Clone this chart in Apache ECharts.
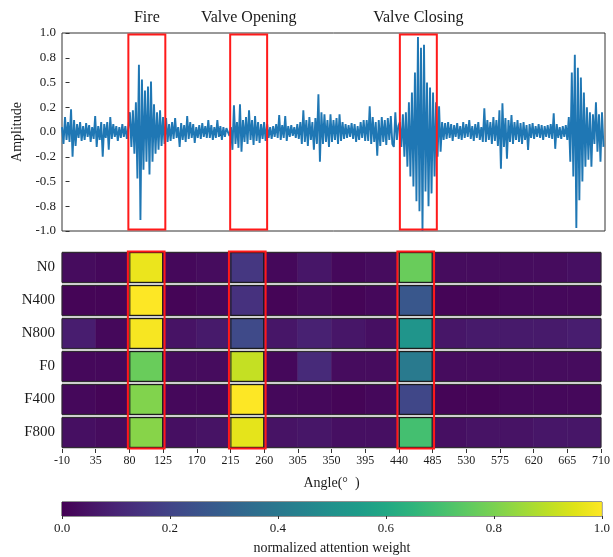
<!DOCTYPE html>
<html>
<head>
<meta charset="utf-8">
<script src="https://cdn.jsdelivr.net/npm/echarts@6/dist/echarts.min.js"></script>
<style>
  html, body { margin: 0; padding: 0; background: #fff; }
  #chart { width: 613px; height: 557px; }
</style>
</head>
<body>
<div id="chart"></div>
<script>
// ---- signal (amplitude sampled every 2 degrees, starting at -10) ----
const SIGNAL_START = -10;
const SIGNAL_STEP = 2;
const amplitude = [
  0.05, -0.12, 0.15, -0.08, 0.10, -0.10, 0.23, -0.25, 0.12, -0.14,   // -10
  0.08, -0.06, 0.10, -0.09, 0.06, -0.08, 0.09, -0.05, 0.07, -0.10,   // 10
  0.05, -0.07, 0.16, -0.15, 0.06, -0.08, 0.10, -0.25, 0.08, -0.06,   // 30
  0.10, -0.18, 0.15, -0.07, 0.08, -0.05, 0.06, -0.09, 0.05, -0.06,   // 50
  0.08, -0.05, 0.06, -0.07, 0.05, 0.20, -0.15, 0.22, -0.22, 0.30,    // 70
  -0.47, 0.68, -0.89, 0.53, -0.38, 0.42, -0.30, 0.46, -0.43, 0.51,   // 90
  -0.30, 0.28, -0.22, 0.20, -0.18, 0.22, -0.14, 0.15, -0.12, 0.14,   // 110
  -0.10, 0.08, -0.09, 0.10, -0.07, 0.14, -0.06, 0.05, -0.15, 0.09,   // 130
  -0.08, 0.07, -0.10, 0.16, -0.07, 0.10, -0.06, 0.08, -0.11, 0.05,   // 150
  -0.06, 0.07, -0.07, 0.09, -0.05, 0.06, -0.06, 0.12, -0.06, 0.07,   // 170
  -0.08, 0.05, -0.06, 0.12, -0.05, 0.06, -0.08, 0.05, -0.05, 0.04,   // 190
  0.04, -0.04, 0.05, -0.18, 0.27, -0.12, 0.10, -0.16, 0.28, -0.20,   // 210
  0.12, -0.10, 0.15, -0.12, 0.22, -0.08, 0.12, -0.13, 0.16, -0.09,   // 230
  0.10, -0.11, 0.08, -0.07, 0.10, -0.09, 0.08, -0.06, 0.05, -0.07,   // 250
  0.06, -0.05, 0.08, -0.06, 0.17, -0.08, 0.07, -0.06, 0.16, -0.09,   // 270
  0.06, -0.05, 0.07, -0.04, 0.05, -0.06, 0.08, -0.07, 0.10, -0.12,   // 290
  0.22, -0.10, 0.12, -0.14, 0.15, -0.08, 0.10, -0.18, 0.14, -0.12,   // 310
  0.38, -0.30, 0.20, -0.12, 0.18, -0.10, 0.12, -0.15, 0.18, -0.10,   // 330
  0.12, -0.08, 0.14, -0.12, 0.18, -0.09, 0.10, -0.07, 0.08, -0.06,   // 350
  0.07, -0.05, 0.09, -0.07, 0.08, -0.10, 0.06, -0.08, 0.10, -0.06,   // 370
  0.12, -0.09, 0.12, -0.09, 0.26, -0.12, 0.15, -0.10, 0.10, -0.24,   // 390
  0.12, -0.14, 0.15, -0.10, 0.12, -0.13, 0.14, -0.08, 0.16, -0.12,   // 410
  -0.15, 0.20, -0.08, 0.06, 0.10, -0.15, 0.18, -0.25, 0.20, -0.35,   // 430
  0.30, -0.45, 0.40, -0.55, 0.60, -0.70, 0.96, -0.80, 0.85, -1.00,   // 450
  0.88, -0.60, 0.50, -0.75, 0.45, -0.62, 0.40, -0.45, 0.30, -0.25,   // 470
  0.26, -0.20, 0.10, -0.08, 0.09, -0.07, 0.10, -0.06, 0.08, -0.09,   // 490
  0.07, -0.05, 0.09, -0.07, 0.06, -0.08, 0.10, -0.06, 0.08, -0.05,   // 510
  0.12, -0.07, 0.06, -0.09, 0.08, -0.06, 0.10, -0.08, 0.05, -0.10,   // 530
  0.24, -0.10, 0.12, -0.08, 0.10, -0.12, 0.15, -0.09, 0.12, -0.14,   // 550
  0.22, -0.37, 0.29, -0.15, 0.14, -0.27, 0.12, -0.10, 0.17, -0.12,   // 570
  0.10, -0.08, 0.12, -0.10, 0.09, -0.12, 0.10, -0.08, 0.07, -0.18,   // 590
  0.08, -0.06, 0.09, -0.07, 0.06, -0.05, 0.08, -0.06, 0.07, -0.08,   // 610
  0.06, -0.05, 0.07, -0.06, 0.08, -0.07, 0.19, -0.17, 0.08, -0.06,   // 630
  0.05, -0.07, 0.06, -0.05, 0.07, -0.08, 0.15, -0.30, 0.60, -0.45,   // 650
  0.78, -0.97, 0.65, -0.69, 0.55, -0.50, 0.40, -0.35, 0.25, -0.28,   // 670
  0.20, -0.35, 0.18, -0.12, 0.30, -0.20, 0.18, -0.30, 0.20, -0.15    // 690
];
const AMP_TICK_LABELS = ['-1.0', '-0.8', '-0.5', '-0.2', '0.0', '0.2', '0.5', '0.8', '1.0'];
const SIGNAL_TICKS = [0, 100, 200, 300, 400, 500, 600, 700];

// ---- event windows ----
const EVENT_TITLES = ['Fire', 'Valve Opening', 'Valve Closing'];
const EVENT_SPANS = [[78, 127], [213, 262], [438, 487]];

// ---- attention heatmap ----
const ANGLE_TICKS = [-10, 35, 80, 125, 170, 215, 260, 305, 350, 395, 440, 485, 530, 575, 620, 665, 710];
const ROW_LABELS = ['N0', 'N400', 'N800', 'F0', 'F400', 'F800'];
const attN0   = [0.03, 0.02, 0.97, 0.02, 0.03, 0.16, 0.02, 0.06, 0.02, 0.03, 0.77, 0.03, 0.03, 0.03, 0.03, 0.04];
const attN400 = [0.01, 0.01, 1.00, 0.01, 0.02, 0.14, 0.01, 0.03, 0.01, 0.02, 0.27, 0.01, 0.01, 0.02, 0.02, 0.02];
const attN800 = [0.08, 0.02, 0.99, 0.05, 0.07, 0.22, 0.06, 0.09, 0.06, 0.04, 0.52, 0.06, 0.07, 0.07, 0.07, 0.08];
const attF0   = [0.02, 0.02, 0.77, 0.03, 0.03, 0.91, 0.02, 0.12, 0.03, 0.03, 0.41, 0.03, 0.03, 0.03, 0.03, 0.03];
const attF400 = [0.02, 0.01, 0.81, 0.02, 0.02, 1.00, 0.02, 0.02, 0.01, 0.02, 0.21, 0.01, 0.01, 0.02, 0.02, 0.02];
const attF800 = [0.04, 0.03, 0.82, 0.04, 0.05, 0.96, 0.05, 0.06, 0.04, 0.04, 0.70, 0.04, 0.05, 0.05, 0.06, 0.06];
const ATTENTION_ROWS = [attN0, attN400, attN800, attF0, attF400, attF800];
const COLORBAR_TICKS = [0, 0.2, 0.4, 0.6, 0.8, 1.0];

// viridis palette
const VIRIDIS = ['#440154', '#471365', '#482475', '#463480', '#414487', '#3b528b', '#355f8d',
  '#2f6c8e', '#2a788e', '#25848e', '#21918c', '#1e9c89', '#22a884', '#2fb47c', '#44bf70',
  '#5ec962', '#7ad151', '#9bd93c', '#bddf26', '#dfe318', '#fde725'];

const FONT = '"Liberation Serif", "Times New Roman", serif';
const TEXT = '#1a1a1a';

const signalData = amplitude.map((v, i) => [SIGNAL_START + i * SIGNAL_STEP, v]);

const cellData = [];
ATTENTION_ROWS.forEach((row, r) => {
  row.forEach((v, c) => cellData.push([ANGLE_TICKS[c], ANGLE_TICKS[c + 1], r, v]));
});
const frameData = ROW_LABELS.map((_, r) => [ANGLE_TICKS[0], ANGLE_TICKS[ANGLE_TICKS.length - 1], r]);
const highlightedCells = [];
ATTENTION_ROWS.forEach((row, r) => {
  row.forEach((v, c) => {
    const a = ANGLE_TICKS[c], b = ANGLE_TICKS[c + 1];
    if (EVENT_SPANS.some(s => a >= s[0] && b <= s[1])) highlightedCells.push([a, b, r]);
  });
});

const chart = echarts.init(document.getElementById('chart'), null, { renderer: 'canvas' });

function bandBounds(api, row) {
  const c = api.coord([0, row]);
  const h = api.size([0, 1])[1];
  return [c[1] - h / 2, c[1] + h / 2];
}

chart.setOption({
  animation: false,
  backgroundColor: '#fff',
  textStyle: { fontFamily: FONT, color: TEXT },
  grid: [
    { left: 62, top: 33, width: 543, height: 198, show: true, borderColor: '#333', borderWidth: 1, backgroundColor: 'transparent' },
    { left: 62, top: 251, width: 543, height: 198, show: true, borderWidth: 0, backgroundColor: '#cfcfcf' },
    { left: 62, top: 502, width: 542, height: 14, show: true, borderColor: '#222', borderWidth: 1, backgroundColor: 'transparent' }
  ],
  xAxis: [
    {
      gridIndex: 0, type: 'value', min: -10, max: 710,
      splitLine: { show: false },
      axisLine: { show: false },
      axisTick: { show: true, length: 4, customValues: SIGNAL_TICKS, lineStyle: { color: '#333' } },
      axisLabel: { show: false }
    },
    {
      gridIndex: 1, type: 'value', min: -10, max: 710, interval: 45,
      splitLine: { show: false },
      axisLine: { show: false },
      axisTick: { show: true, length: 4, lineStyle: { color: '#333' } },
      axisLabel: { fontFamily: FONT, fontSize: 12, color: TEXT, margin: 6, showMinLabel: true, showMaxLabel: true, hideOverlap: false },
      name: 'Angle(°  )', nameLocation: 'middle', nameGap: 27,
      nameTextStyle: { fontFamily: FONT, fontSize: 14, color: TEXT }
    },
    {
      gridIndex: 2, type: 'value', min: 0, max: 1, interval: 0.2,
      splitLine: { show: false },
      axisLine: { show: false },
      axisTick: { show: true, length: 3, lineStyle: { color: '#333' } },
      axisLabel: { fontFamily: FONT, fontSize: 13, color: TEXT, margin: 6, formatter: v => v.toFixed(1) },
      name: 'normalized attention weight', nameLocation: 'middle', nameGap: 25,
      nameTextStyle: { fontFamily: FONT, fontSize: 14, color: TEXT }
    }
  ],
  yAxis: [
    {
      gridIndex: 0, type: 'value', min: -1, max: 1, interval: 0.25,
      splitLine: { show: false },
      axisLine: { show: false },
      axisTick: { show: true, length: 4, lineStyle: { color: '#333' } },
      axisLabel: {
        fontFamily: FONT, fontSize: 13, color: TEXT, margin: 6,
        formatter: v => AMP_TICK_LABELS[Math.round((v + 1) / 0.25)]
      },
      name: 'Amplitude', nameLocation: 'middle', nameGap: 38, nameRotate: 90,
      nameTextStyle: { fontFamily: FONT, fontSize: 14, color: TEXT }
    },
    {
      gridIndex: 1, type: 'category', data: ROW_LABELS, inverse: true,
      axisLine: { show: false },
      axisTick: { show: false },
      axisLabel: { fontFamily: FONT, fontSize: 15, color: TEXT, margin: 7 }
    },
    {
      gridIndex: 2, type: 'value', min: 0, max: 1, show: false
    }
  ],
  visualMap: {
    show: false, type: 'continuous', min: 0, max: 1, dimension: 3, seriesIndex: 2,
    inRange: { color: VIRIDIS }
  },
  series: [
    {
      type: 'line', xAxisIndex: 0, yAxisIndex: 0, data: signalData,
      showSymbol: false, symbol: 'none', sampling: null,
      lineStyle: { color: '#1f77b4', width: 1.9, join: 'miter', miterLimit: 2 }, z: 2
    },
    {
      // event windows with their titles on the signal panel
      type: 'custom', xAxisIndex: 0, yAxisIndex: 0,
      data: EVENT_SPANS.map(s => [s[0], s[1], -0.985, 0.985]),
      encode: { x: [0, 1], y: [2, 3] },
      z: 5, clip: false,
      renderItem: (params, api) => {
        const p0 = api.coord([api.value(0), api.value(3)]);
        const p1 = api.coord([api.value(1), api.value(2)]);
        return {
          type: 'group',
          children: [
            { type: 'rect', shape: { x: p0[0], y: p0[1], width: p1[0] - p0[0], height: p1[1] - p0[1] },
              style: { fill: 'none', stroke: '#ff1a1a', lineWidth: 2 } },
            { type: 'text', x: (p0[0] + p1[0]) / 2, y: p0[1] - 17,
              style: { text: EVENT_TITLES[params.dataIndex], fontFamily: FONT, fontSize: 16, fill: TEXT,
                       align: 'center', verticalAlign: 'middle' } }
          ]
        };
      }
    },
    {
      // attention cells
      type: 'custom', xAxisIndex: 1, yAxisIndex: 1,
      data: cellData,
      dimensions: ['from', 'to', 'row', 'weight'],
      encode: { x: [0, 1], y: 2 },
      z: 2,
      renderItem: (params, api) => {
        const a = api.coord([api.value(0), api.value(2)]);
        const b = api.coord([api.value(1), api.value(2)]);
        const [t, btm] = bandBounds(api, api.value(2));
        const col = api.visual('color');
        return { type: 'rect', shape: { x: a[0], y: t + 1.6, width: b[0] - a[0], height: btm - t - 3.2 },
                 style: { fill: col, stroke: col, lineWidth: 0.5 } };
      }
    },
    {
      // row frames
      type: 'custom', xAxisIndex: 1, yAxisIndex: 1,
      data: frameData,
      encode: { x: [0, 1], y: 2 },
      z: 3,
      renderItem: (params, api) => {
        const a = api.coord([api.value(0), api.value(2)]);
        const b = api.coord([api.value(1), api.value(2)]);
        const [t, btm] = bandBounds(api, api.value(2));
        return { type: 'rect', shape: { x: a[0], y: t + 1.6, width: b[0] - a[0], height: btm - t - 3.2 },
                 style: { fill: 'none', stroke: '#2b2b2b', lineWidth: 1 } };
      }
    },
    {
      // outlines of cells inside the event windows
      type: 'custom', xAxisIndex: 1, yAxisIndex: 1,
      data: highlightedCells,
      encode: { x: [0, 1], y: 2 },
      z: 4,
      renderItem: (params, api) => {
        const a = api.coord([api.value(0), api.value(2)]);
        const b = api.coord([api.value(1), api.value(2)]);
        const [t, btm] = bandBounds(api, api.value(2));
        return { type: 'rect', shape: { x: a[0] + 0.5, y: t + 1.6, width: b[0] - a[0] - 1, height: btm - t - 3.2 },
                 style: { fill: 'none', stroke: '#1a1a1a', lineWidth: 1 } };
      }
    },
    {
      // event windows on the heatmap
      type: 'custom', xAxisIndex: 1, yAxisIndex: 1,
      data: EVENT_SPANS.map(s => [s[0], s[1], 0]),
      encode: { x: [0, 1], y: 2 },
      z: 6, clip: false,
      renderItem: (params, api) => {
        const a = api.coord([api.value(0), 0]);
        const b = api.coord([api.value(1), 0]);
        const top = bandBounds(api, 0)[0];
        const bottom = bandBounds(api, ROW_LABELS.length - 1)[1];
        return { type: 'rect', shape: { x: a[0], y: top + 0.5, width: b[0] - a[0], height: bottom - top - 1 },
                 style: { fill: 'none', stroke: '#ff1a1a', lineWidth: 2 } };
      }
    },
    {
      // colorbar
      type: 'custom', xAxisIndex: 2, yAxisIndex: 2,
      data: [[COLORBAR_TICKS[0], COLORBAR_TICKS[COLORBAR_TICKS.length - 1], 0, 1]],
      encode: { x: [0, 1], y: [2, 3] },
      z: 2,
      renderItem: (params, api) => {
        const p0 = api.coord([api.value(0), api.value(3)]);
        const p1 = api.coord([api.value(1), api.value(2)]);
        const stops = VIRIDIS.map((c, i) => ({ offset: i / (VIRIDIS.length - 1), color: c }));
        return { type: 'rect', shape: { x: p0[0], y: p0[1], width: p1[0] - p0[0], height: p1[1] - p0[1] },
                 style: { fill: new echarts.graphic.LinearGradient(0, 0, 1, 0, stops) } };
      }
    }
  ]
});
</script>
</body>
</html>
